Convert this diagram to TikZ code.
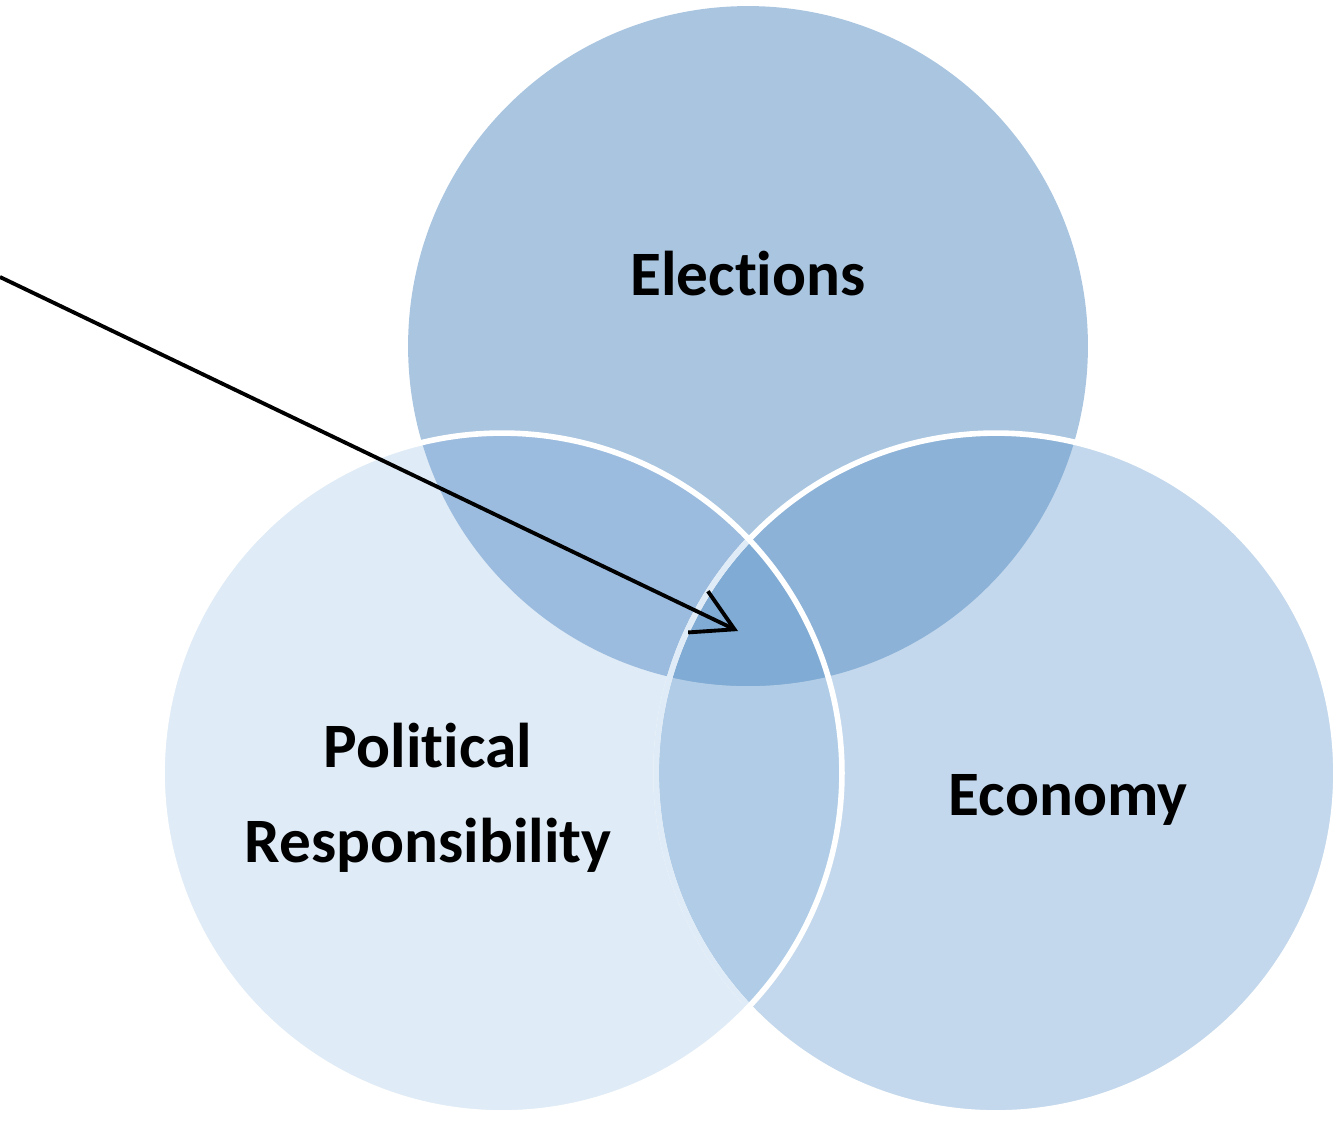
\documentclass[tikz,border=0pt]{standalone}
\usepackage{fontspec}
\setmainfont{Carlito}[Ligatures=NoCommon]
\usetikzlibrary{arrows.meta}
\definecolor{elecfill}{HTML}{A9C5E0}
\definecolor{politfill}{HTML}{DFEBF6}
\definecolor{econfill}{HTML}{C3D8EC}
\definecolor{elpofill}{HTML}{9BBCDE}
\definecolor{elecofill}{HTML}{8CB2D7}
\definecolor{poecfill}{HTML}{B0CCE6}
\definecolor{allfill}{HTML}{80ABD4}

\begin{document}
\begin{tikzpicture}[x=0.02cm,y=-0.02cm,
    lbl/.style={font=\fontsize{36}{43}\selectfont\bfseries,inner sep=0pt,anchor=base},
    rim/.style={draw=white,line width=3.2pt},
    pointer/.style={-{Straight Barb[length=23pt,width=26pt]},line width=2.2pt}]
  \def\Rad{6.8cm}
  \useasboundingbox (0,0) rectangle (1341,1120);
  \coordinate (elec) at (748,346);
  \coordinate (polit) at (502,773);
  \coordinate (econ) at (996,773);
  % --- the three discs ---
  \fill[elecfill] (elec) circle[radius=\Rad];
  \fill[econfill] (econ) circle[radius=\Rad];
  \fill[politfill] (polit) circle[radius=\Rad];
  % --- overlaps ---
  \begin{scope}
    \clip (econ) circle[radius=\Rad];
    \fill[poecfill] (polit) circle[radius=\Rad];
  \end{scope}
  \begin{scope}
    \clip (elec) circle[radius=\Rad];
    \fill[elpofill] (polit) circle[radius=\Rad];
    \fill[elecofill] (econ) circle[radius=\Rad];
    \clip (polit) circle[radius=\Rad];
    \fill[allfill] (econ) circle[radius=\Rad];
  \end{scope}
  % --- white rims, the economy one shows through the left disc ---
  \draw[rim] (econ) circle[radius=\Rad];
  \begin{scope}
    \clip (polit) circle[radius=\Rad];
    \draw[rim,draw=politfill] (econ) circle[radius=\Rad];
  \end{scope}
  \draw[rim] (polit) circle[radius=\Rad];
  % --- labels ---
  \node[lbl] (elecl) at (748,295) {Elections};
  \node[lbl] (politl) at (428,767) {Political};
  \node[lbl] (respl) at (428,862) {Responsibility};
  \node[lbl] (econl) at (1068,815) {Economy};
  % --- pointer into the middle ---
  \coordinate (tail) at (0,277);
  \coordinate (tip) at (738,631);
  \draw[pointer] (tail) -- (tip);
\end{tikzpicture}
\end{document}
